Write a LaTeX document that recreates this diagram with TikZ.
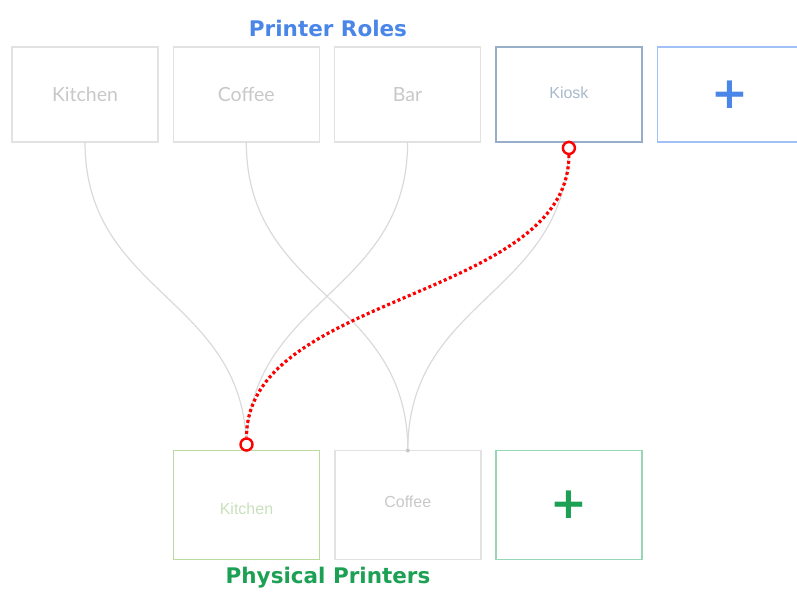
\documentclass[tikz,border=0pt]{standalone}
\usepackage{fontspec}
\usepackage{tikz}
\usetikzlibrary{positioning}

\newfontfamily\rolefont{Lato}
\newfontfamily\printfont{Liberation Sans}
\newfontfamily\headfont{DejaVu Sans}

\definecolor{boxgray}{RGB}{226,226,226}
\definecolor{txtgray}{RGB}{200,200,200}
\definecolor{wiregray}{RGB}{218,218,218}
\definecolor{kioskline}{RGB}{150,174,200}
\definecolor{kiosktxt}{RGB}{168,184,204}
\definecolor{addblueline}{RGB}{160,192,246}
\definecolor{roleblue}{RGB}{74,134,232}
\definecolor{kitchline}{RGB}{186,218,160}
\definecolor{kitchtxt}{RGB}{200,224,188}
\definecolor{addgreenline}{RGB}{150,216,182}
\definecolor{printgreen}{RGB}{28,160,84}

\tikzset{
  slot/.style={draw=boxgray, line width=1.4pt, minimum width=146pt, inner sep=0pt, outer sep=0pt},
  role/.style={slot, minimum height=95pt, font=\rolefont\fontsize{19.5}{19.5}\selectfont, text=txtgray},
  printer/.style={slot, minimum height=109pt, font=\printfont\fontsize{16}{16}\selectfont, text=txtgray},
  plus/.style={font=\headfont\bfseries\fontsize{44}{44}\selectfont},
  heading/.style={font=\headfont\bfseries\fontsize{21.5}{21.5}\selectfont},
  wire/.style={wiregray, line width=1.2pt, out=-90, in=90, looseness=1.13},
  link/.style={red, line width=3.2pt, dash pattern=on 3pt off 2.6pt},
  endring/.style={draw=red, line width=2.4pt, circle, fill=white, inner sep=0pt, minimum size=12pt},
  pin/.style={fill=wiregray!80!gray, circle, inner sep=0pt, minimum size=4pt},
}

\begin{document}
\begin{tikzpicture}[x=1pt, y=1pt, node distance=15.3pt]
  \useasboundingbox (0,0) rectangle (797,-593);

  % printer roles
  \node[role] (rk) at (85,-94.5) {Kitchen};
  \node[role, right=of rk] (rc) {Coffee};
  \node[role, right=of rc] (rb) {Bar};
  \node[role, right=of rb, draw=kioskline, text=kiosktxt,
        font=\printfont\fontsize{16}{16}\selectfont] (rks) {\raisebox{-4.3pt}[0pt][0pt]{Kiosk}};
  \node[role, right=of rks, draw=addblueline, text=roleblue, plus] (radd) {+};
  \node[heading, text=roleblue] (roles) at (328,-28) {Printer Roles};

  % physical printers
  \node[printer, draw=kitchline, text=kitchtxt] (pk) at (246.5,-505) {\raisebox{-9.3pt}[0pt][0pt]{Kitchen}};
  \node[printer, right=of pk] (pc) {\raisebox{-2.3pt}[0pt][0pt]{Coffee}};
  \node[printer, right=of pc, draw=addgreenline, text=printgreen, plus] (padd) {+};
  \node[heading, text=printgreen] (printers) at (328,-578) {Physical Printers};

  % assignments
  \draw[wire] (rk.south) to (pk.north);
  \draw[wire] (rc.south) to (pc.north);
  \draw[wire] (rb.south) to (pk.north);
  \draw[wire] (rks.south) to (pc.north);
  \node[pin] at (pc.north) {};
  \node[pin] at (pk.north) {};
  \node[pin] at (rks.south) {};

  % link being dragged
  \node[endring] (from) at ([yshift=-6pt]rks.south) {};
  \node[endring] (to) at ([yshift=6pt]pk.north) {};
  \draw[link] (from.south) to[out=-90, in=90, looseness=0.86] (to.north);
\end{tikzpicture}
\end{document}
